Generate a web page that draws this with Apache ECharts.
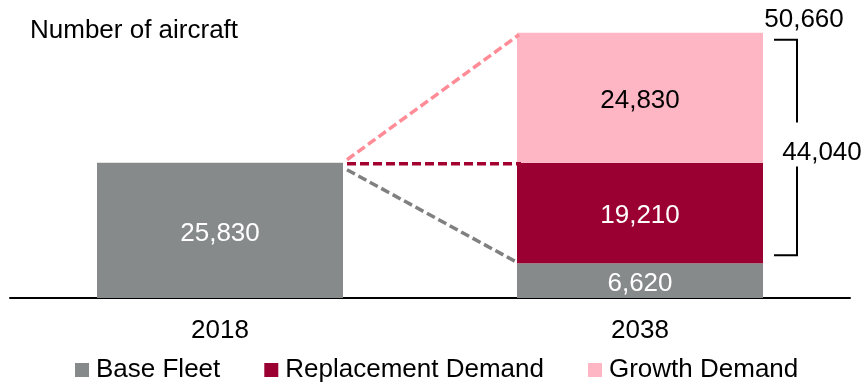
<!DOCTYPE html>
<html><head><meta charset="utf-8">
<script src="https://cdn.jsdelivr.net/npm/echarts@6/dist/echarts.min.js"></script>
<style>html,body{margin:0;padding:0;background:#fff}#c{width:867px;height:383px}</style>
</head><body><div id="c"></div>
<script>
const categories = ['2018', '2038'];
const baseFleet = [25830, 6620];
const replacementDemand = [null, 19210];
const growthDemand = [null, 24830];
const seriesNames = ['Base Fleet', 'Replacement Demand', 'Growth Demand'];
const titleText = 'Number of aircraft';

const FONT = '"Liberation Sans", Arial, sans-serif';
const BAR_W = 246;
const fmt = v => Number(v).toLocaleString('en-US');

const total2038 = baseFleet[1] + replacementDemand[1] + growthDemand[1];
const newDemand = replacementDemand[1] + growthDemand[1];
const level2038 = baseFleet[1] + replacementDemand[1];

function barSeries(name, data, color, labelColor) {
  return {
    name, type: 'bar', stack: 'a', barWidth: BAR_W,
    data: data.map(v => v == null ? '-' : v),
    itemStyle: { color },
    label: { show: true, position: 'inside', offset: [0, 3], color: labelColor, fontSize: 26, fontFamily: FONT,
      formatter: p => fmt(p.value) },
    animation: false
  };
}

const chart = echarts.init(document.getElementById('c'));
chart.setOption({
  animation: false,
  title: { text: titleText, left: 30, top: 18, padding: 0,
    textStyle: { fontSize: 26, fontWeight: 'normal', fontFamily: FONT, color: '#000' } },
  legend: { data: seriesNames, left: 75, top: 357, padding: 0, itemWidth: 14, itemHeight: 14, itemGap: 44,
    icon: 'rect', textStyle: { fontSize: 26, color: '#000', fontFamily: FONT, padding: [0, 0, 0, 2] } },
  grid: { left: 10, right: 17, top: 10, bottom: 85 },
  xAxis: { type: 'category', data: categories,
    axisLine: { lineStyle: { color: '#000', width: 2 } }, axisTick: { show: false },
    axisLabel: { fontSize: 26, color: '#000', margin: 20, fontFamily: FONT } },
  yAxis: { type: 'value', min: 0, max: 55000, show: false, splitLine: { show: false } },
  series: [
    barSeries(seriesNames[0], baseFleet, '#878a8a', '#fff'),
    barSeries(seriesNames[1], replacementDemand, '#9b0033', '#fff'),
    barSeries(seriesNames[2], growthDemand, '#ffb6c4', '#000'),
    {
      type: 'custom', silent: true, z: 5, data: [[0, baseFleet[0]]],
      renderItem: (params, api) => {
        const p0 = api.coord([0, baseFleet[0]]);
        const x0 = p0[0] + BAR_W / 2 + 4;
        const x1 = api.coord([1, 0])[0] - BAR_W / 2;
        const xr = x1 + BAR_W;
        const yTop = api.coord([1, total2038])[1];
        const yMid = api.coord([1, level2038])[1];
        const yBase = api.coord([1, baseFleet[1]])[1];
        const dash = { lineWidth: 3.5, lineDash: [9, 4] };
        const children = [
          { type: 'line', shape: { x1: x0, y1: p0[1] - 3, x2: x1 + 2, y2: yTop + 2 }, style: Object.assign({ stroke: '#ff8c96' }, dash) },
          { type: 'line', shape: { x1: x0, y1: p0[1] + 1, x2: x1 + 4, y2: yMid + 1 }, style: Object.assign({ stroke: '#a3002f' }, dash) },
          { type: 'line', shape: { x1: x0, y1: p0[1] + 7, x2: x1, y2: yBase - 1 }, style: Object.assign({ stroke: '#808080' }, dash) }
        ];
        const bx0 = xr + 11, bx1 = xr + 34;
        const bt = yTop + 7, bb = yBase - 8;
        const mid = (bt + bb) / 2 + 5;
        children.push({ type: 'polyline', shape: { points: [[bx0, bt], [bx1, bt], [bx1, mid - 30]] }, style: { stroke: '#000', lineWidth: 2, fill: null } });
        children.push({ type: 'polyline', shape: { points: [[bx1, mid + 14], [bx1, bb], [bx0, bb]] }, style: { stroke: '#000', lineWidth: 2, fill: null } });
        children.push({ type: 'text', style: { text: fmt(newDemand), x: bx1 + 25, y: mid, align: 'center', verticalAlign: 'middle', font: '26px ' + FONT, fill: '#000' } });
        children.push({ type: 'text', style: { text: fmt(total2038), x: xr + 41, y: yTop - 13, align: 'center', verticalAlign: 'middle', font: '26px ' + FONT, fill: '#000' } });
        return { type: 'group', children };
      }
    }
  ]
});
</script></body></html>
